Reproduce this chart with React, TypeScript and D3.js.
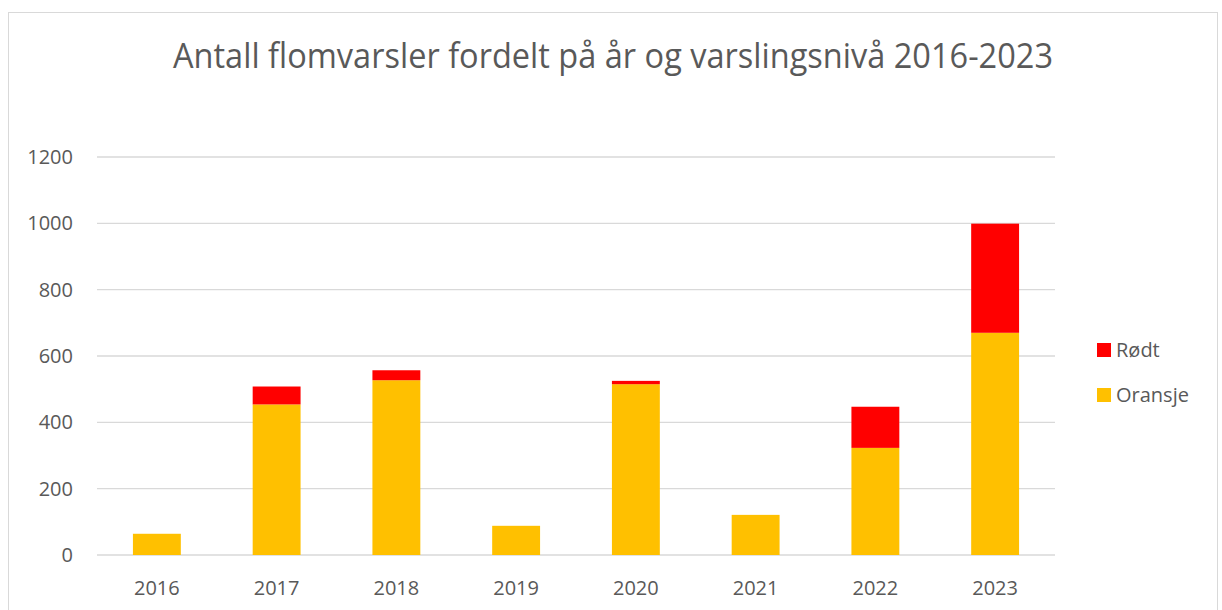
import React from "react";
import * as d3 from "d3";

const years = ["2016", "2017", "2018", "2019", "2020", "2021", "2022", "2023"];
const oransje = [64, 454, 527, 88, 515, 121, 323, 670];
const rodt = [0, 54, 30, 0, 10, 0, 124, 329];
const yTicks = [0, 200, 400, 600, 800, 1000, 1200];
const seriesNames = ["Rødt", "Oransje"];
const seriesColors = ["#ff0000", "#ffc000"];
const title = "Antall flomvarsler fordelt på år og varslingsnivå 2016-2023";

export default function App() {
  const W = 1222;
  const H = 610;
  const x = d3.scaleBand<string>().domain(years).range([97, 1055]).padding(0);
  const y = d3.scaleLinear().domain([0, 1200]).range([555, 157]);
  const bw = x.bandwidth() * 0.4;
  const font = "'Open Sans', 'Noto Sans', sans-serif";
  const textColor = "#595959";

  const data = years.map((yr, i) => ({ yr, o: oransje[i], r: rodt[i] }));
  const stack = d3.stack<any>().keys(["o", "r"])(data as any);

  return (
    <svg width={W} height={H} style={{ position: "absolute", left: 0, top: 0 }}>
      <rect x={0} y={0} width={W} height={H} fill="#ffffff" />
      <rect x={8.5} y={12.5} width={1209} height={620} fill="#ffffff" stroke="#d9d9d9" strokeWidth={1} />
      <text
        x={613}
        y={68}
        textAnchor="middle"
        fontFamily={font}
        fontSize={34}
        fill={textColor}
        textLength={880}
        lengthAdjust="spacingAndGlyphs"
      >
        {title}
      </text>
      {yTicks.map((t) => (
        <g key={t}>
          <line x1={97} x2={1055} y1={y(t)} y2={y(t)} stroke="#d9d9d9" strokeWidth={1.3} />
          <text x={73} y={y(t)} dy="0.35em" textAnchor="end" fontFamily={font} fontSize={20} fill={textColor}>
            {t}
          </text>
        </g>
      ))}
      {stack.map((s, si) => (
        <g key={si} fill={si === 0 ? seriesColors[1] : seriesColors[0]}>
          {s.map((d: any, i: number) =>
            d[1] - d[0] > 0 ? (
              <rect
                key={i}
                x={(x(years[i]) as number) + (x.bandwidth() - bw) / 2}
                y={y(d[1])}
                width={bw}
                height={y(d[0]) - y(d[1])}
              />
            ) : null
          )}
        </g>
      ))}
      {years.map((yr) => (
        <text
          key={yr}
          x={(x(yr) as number) + x.bandwidth() / 2}
          y={595}
          textAnchor="middle"
          fontFamily={font}
          fontSize={20}
          fill={textColor}
        >
          {yr}
        </text>
      ))}
      {seriesNames.map((n, i) => (
        <g key={n} transform={`translate(1097, ${343 + i * 45})`}>
          <rect x={0} y={0} width={14} height={14} fill={seriesColors[i]} />
          <text x={19} y={7} dy="0.35em" fontFamily={font} fontSize={20} fill={textColor}>
            {n}
          </text>
        </g>
      ))}
    </svg>
  );
}
